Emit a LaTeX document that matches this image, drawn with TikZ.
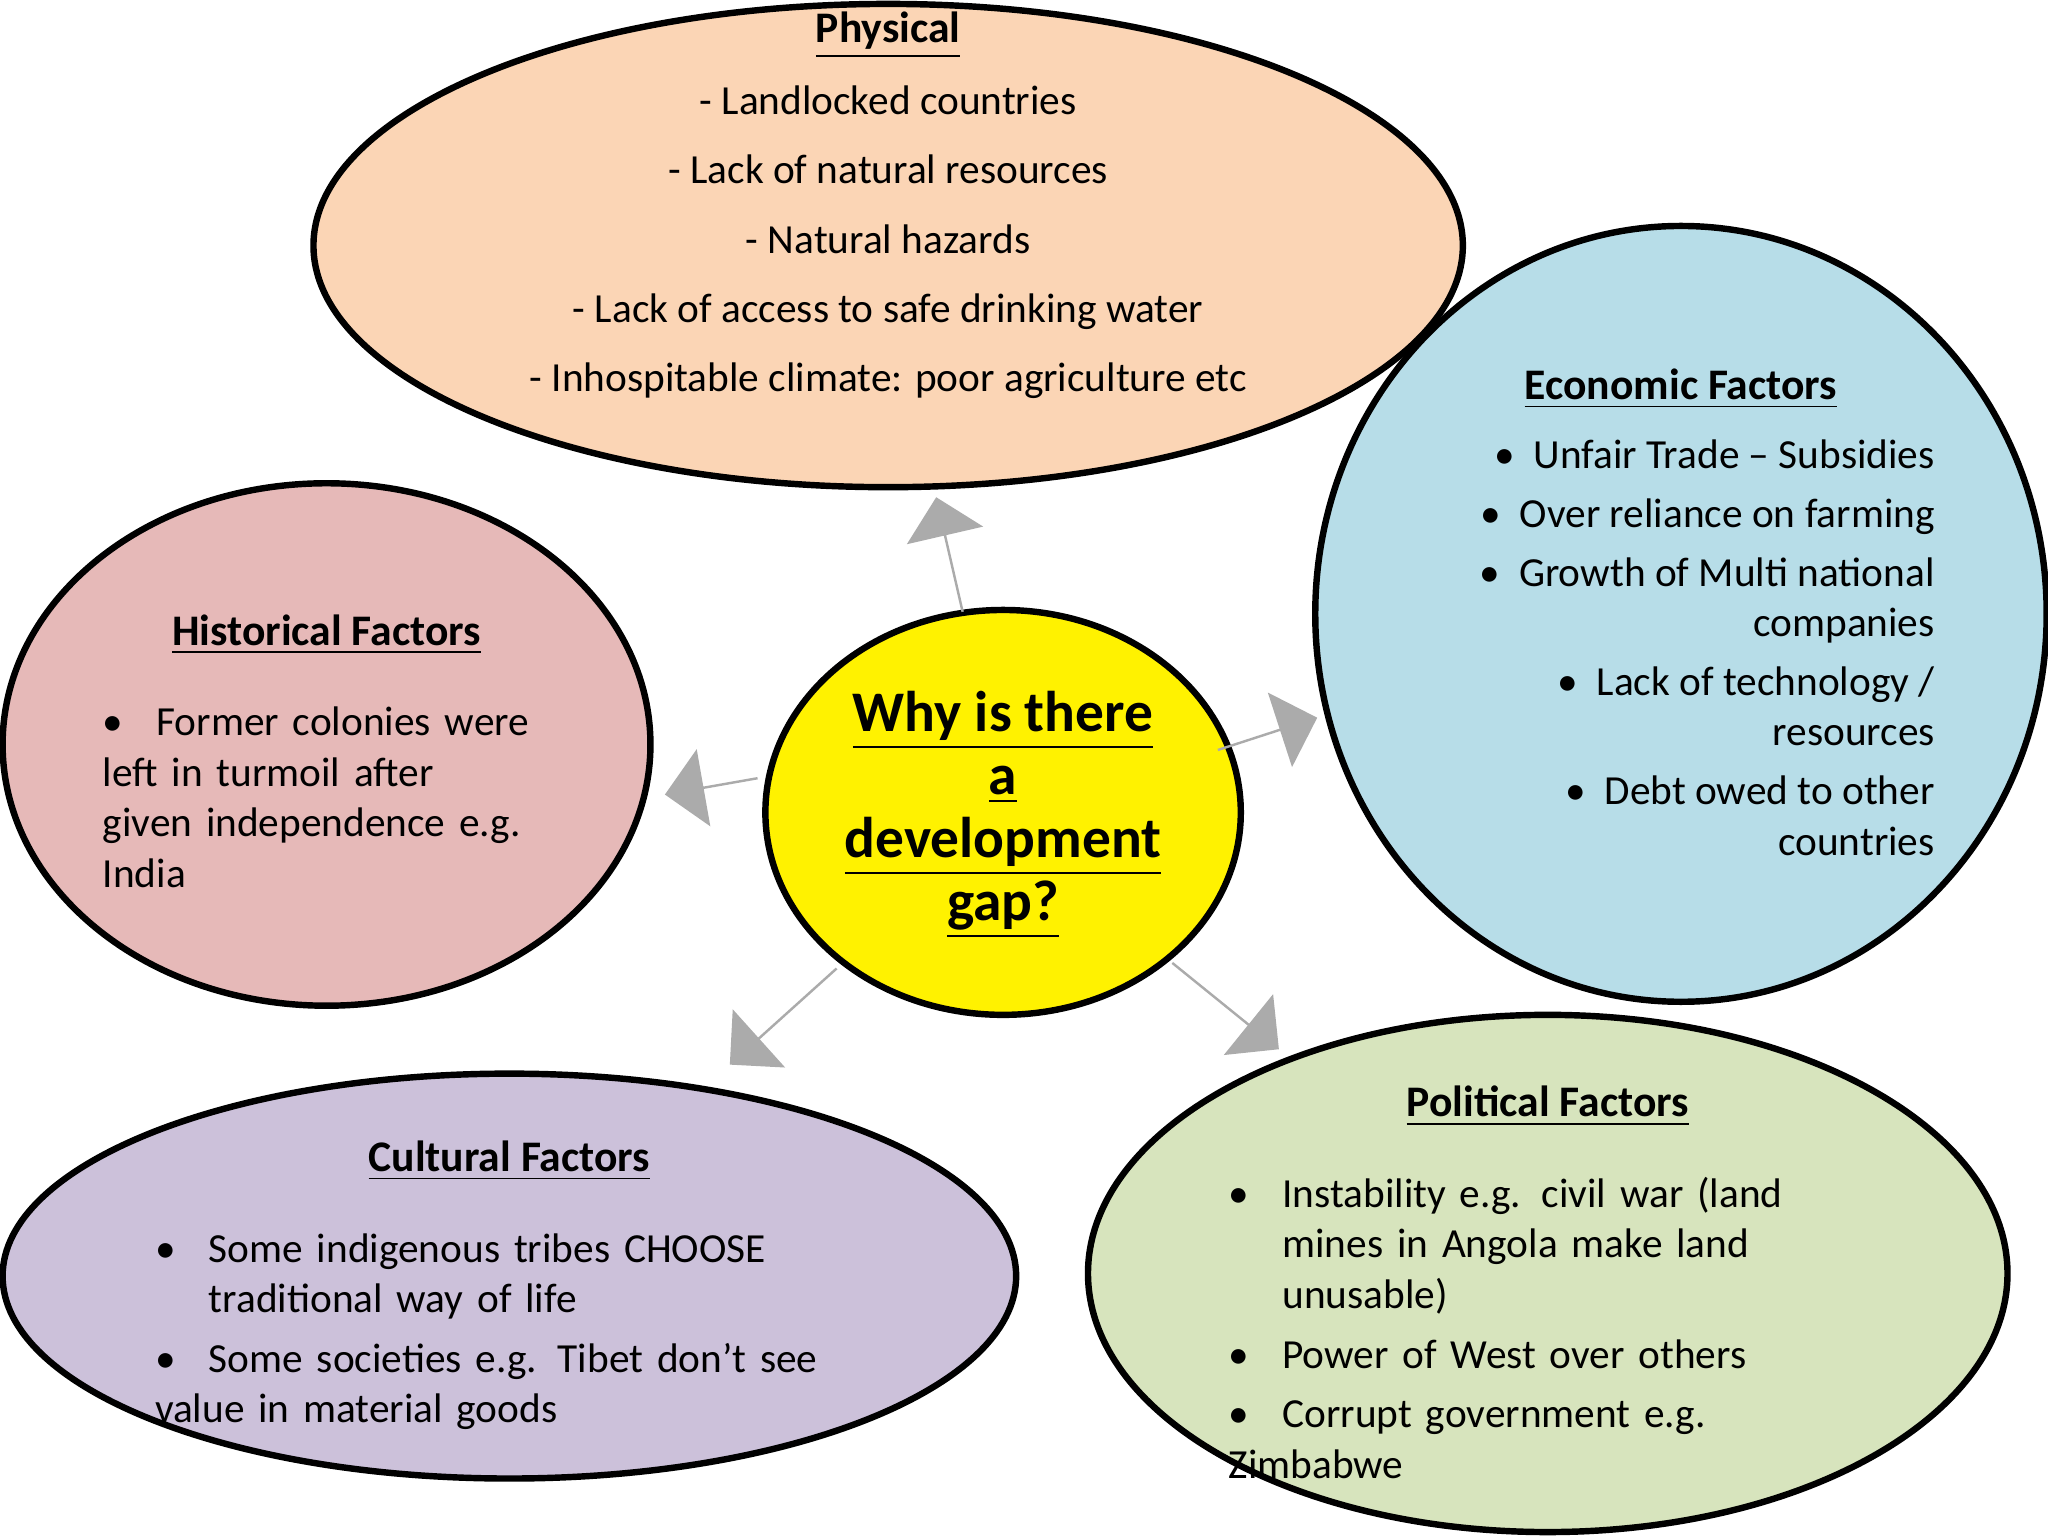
\documentclass[tikz,border=0pt]{standalone}
\usepackage{fontspec}
\setmainfont{Carlito}
\usetikzlibrary{shapes.geometric,shapes.arrows}
\newcommand{\bitem}[1]{\par\hangindent=1.3em\hangafter=1\noindent\makebox[1.3em][l]{\textbullet}#1}
\tikzset{
  blob/.style={ellipse,draw=black,line width=1.4pt,inner sep=0pt},
  ttl/.style={font=\fontsize{9.5}{11}\selectfont\bfseries,inner sep=0pt},
  txt/.style={font=\fontsize{9}{11}\selectfont,inner sep=0pt,align=left},
  garrow/.style={single arrow,fill=black!33,draw=none,minimum width=60*0.01cm,single arrow head extend=22*0.01cm,single arrow head indent=0pt,inner sep=0pt}
}
\begin{document}
\begin{tikzpicture}[x=0.01cm,y=-0.01cm]
\useasboundingbox (0,0) rectangle (1568,1176);
\fill[white] (0,0) rectangle (1568,1176);
% ellipses
\node[blob,fill={rgb,255:red,251;green,213;blue,181},minimum width=880*0.01cm,minimum height=370*0.01cm] (phys) at (680,188) {};
\node[blob,fill={rgb,255:red,183;green,221;blue,232},minimum width=560*0.01cm,minimum height=594*0.01cm] (econ) at (1287,470) {};
\node[blob,fill={rgb,255:red,230;green,185;blue,184},minimum width=496*0.01cm,minimum height=400*0.01cm] (hist) at (250,570) {};
\node[blob,fill={rgb,255:red,204;green,193;blue,218},minimum width=776*0.01cm,minimum height=310*0.01cm] (cult) at (390,977) {};
\node[blob,fill={rgb,255:red,215;green,228;blue,189},minimum width=704*0.01cm,minimum height=396*0.01cm] (pol) at (1185,975) {};
\node[blob,fill=yellow,minimum width=364*0.01cm,minimum height=310*0.01cm] (ctr) at (768,622) {};
% arrows
\node[garrow,minimum height=90*0.01cm,rotate=103] (a1) at (727,425) {};
\node[garrow,minimum height=80*0.01cm,rotate=18] (a2) at (970,562) {};
\node[garrow,minimum height=72*0.01cm,rotate=190] (a3) at (545,602) {};
\node[garrow,minimum height=110*0.01cm,rotate=222] (a4) at (600,778) {};
\node[garrow,minimum height=105*0.01cm,rotate=-39] (a5) at (938,770) {};
% center text
\node[font=\fontsize{12.5}{13.7}\selectfont\bfseries,align=center,inner sep=0pt] (ctrt) at (768,624)
 {\underline{Why is there}\\\underline{a}\\\underline{development}\\\underline{gap?}};
% physical
\node[ttl] (physt) at (680,27) {\underline{Physical}};
\node[font=\fontsize{9}{15.1}\selectfont,align=center,inner sep=0pt,anchor=north] (physl) at (680,65)
 {- Landlocked countries\\- Lack of natural resources\\- Natural hazards\\- Lack of access to safe drinking water\\- Inhospitable climate: poor agriculture etc};
% economic
\node[ttl] (econt) at (1287,298) {\underline{Economic Factors}};
\node[font=\fontsize{9}{11}\selectfont,align=right,inner sep=0pt,anchor=north east] (econl) at (1482,336)
 {\textbullet\ \ Unfair Trade – Subsidies\\[1.8pt]\textbullet\ \ Over reliance on farming\\[1.8pt]\textbullet\ \ Growth of Multi national\\companies\\[1.8pt]\textbullet\ \ Lack of technology /\\resources\\[1.8pt]\textbullet\ \ Debt owed to other\\countries};
% historical
\node[ttl] (histt) at (250,486) {\underline{Historical Factors}};
\node[txt,text width=330*0.01cm,anchor=north west] (histl) at (78,524)
 {\bitem{Former colonies were left in turmoil after given independence e.g. India}};
% cultural
\node[ttl] (cultt) at (390,889) {\underline{Cultural Factors}};
\node[txt,text width=520*0.01cm,anchor=north west] (cultl) at (118,927)
 {\bitem{Some indigenous tribes CHOOSE traditional way of life}\vspace{2pt}\bitem{Some societies e.g. Tibet don’t see value in material goods}};
% political
\node[ttl] (polt) at (1185,847) {\underline{Political Factors}};
\node[txt,text width=430*0.01cm,anchor=north west] (poll) at (940,885)
 {\bitem{Instability e.g. civil war (land mines in Angola make land unusable)}\vspace{2pt}\bitem{Power of West over others}\vspace{2pt}\bitem{Corrupt government e.g. Zimbabwe}};
\end{tikzpicture}
\end{document}
